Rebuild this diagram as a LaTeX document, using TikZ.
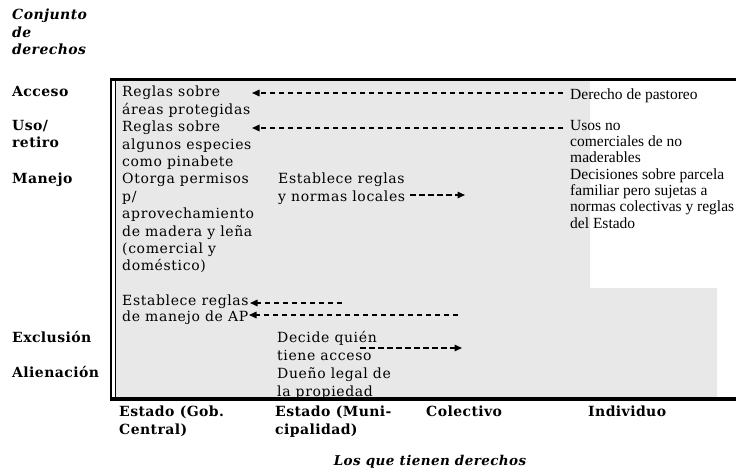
\documentclass[tikz,border=0pt]{standalone}
\usepackage{fontspec}
\setmainfont{DejaVu Serif}
\newfontfamily\boxfont{DejaVu Serif}[LetterSpace=4.5]
\newfontfamily\lblfont{DejaVu Serif}[LetterSpace=3]
\newfontfamily\rtfont{Liberation Serif}
\usetikzlibrary{arrows.meta}
\definecolor{bggray}{RGB}{232,232,232}
\begin{document}
\begin{tikzpicture}[x=1pt,y=-1pt,
  boxtxt/.style={font=\boxfont\fontsize{14}{17.4}\selectfont, align=left, anchor=north west, inner sep=0pt},
  lbl/.style={font=\lblfont\fontsize{14}{17.5}\selectfont\bfseries, align=left, anchor=north west, inner sep=0pt},
  rtxt/.style={font=\rtfont\fontsize{15.5}{16.3}\selectfont, align=left, anchor=north west, inner sep=0pt},
  dasharrow/.style={dash pattern=on 5.5pt off 3.5pt, line width=1.5pt, -{Triangle[length=7.5pt,width=6.5pt]}}]
\useasboundingbox (0,0) rectangle (736,473);
\fill[white] (0,0) rectangle (736,473);
\fill[bggray] (115,80) -- (590,80) -- (590,288) -- (717,288) -- (717,399) -- (115,399) -- cycle;
\draw[line width=3pt] (110,80) -- (736,80);
\draw[line width=3.5pt] (110,399) -- (736,399);
\draw[line width=2.5pt] (111,79) -- (111,401);
\draw[line width=1.5pt] (115.5,80) -- (115.5,398);
% row labels
\node[lbl, font=\lblfont\fontsize{14}{17.5}\selectfont\bfseries\itshape] (conj) at (12,9) {Conjunto\\de\\derechos};
\node[lbl] (acc) at (12,86) {Acceso};
\node[lbl] (uso) at (12,120) {Uso/\\retiro};
\node[lbl] (man) at (12,173) {Manejo};
\node[lbl] (exc) at (12,331) {Exclusión};
\node[lbl] (ali) at (12,366) {Alienación};
% column 1
\node[boxtxt] (c1a) at (122,86) {Reglas sobre\\áreas protegidas\\Reglas sobre\\algunos especies\\como pinabete\\Otorga permisos\\p/\\aprovechamiento\\de madera y leña\\(comercial y\\doméstico)};
\node[boxtxt, font=\boxfont\fontsize{14}{16}\selectfont] (c1b) at (122,295) {Establece reglas\\de manejo de AP};
% column 2
\node[boxtxt] (c2a) at (278,173) {Establece reglas\\y normas locales};
\node[boxtxt, font=\boxfont\fontsize{14}{18}\selectfont] (c2b) at (277,331) {Decide quién\\tiene acceso\\Dueño legal de\\la propiedad};
% right column
\node[rtxt] (r1) at (570,89) {Derecho de pastoreo};
\node[rtxt] (r2) at (570,120) {Usos no\\comerciales de no\\maderables\\Decisiones sobre parcela\\familiar pero sujetas a\\normas colectivas y reglas\\del Estado};
% arrow ends
\coordinate (a1s) at (563,93);  \coordinate (a1e) at (252,93);
\coordinate (a2s) at (563,128); \coordinate (a2e) at (252,128);
\coordinate (a3s) at (410,195); \coordinate (a3e) at (465,195);
\coordinate (a4s) at (342,303); \coordinate (a4e) at (250,303);
\coordinate (a5s) at (458,315); \coordinate (a5e) at (249,315);
\coordinate (a6s) at (360,348); \coordinate (a6e) at (462,348);
\draw[dasharrow] (a1s) -- (a1e);
\draw[dasharrow] (a2s) -- (a2e);
\draw[dasharrow] (a3s) -- (a3e);
\draw[dasharrow] (a4s) -- (a4e);
\draw[dasharrow] (a5s) -- (a5e);
\draw[dasharrow] (a6s) -- (a6e);
% bottom labels
\node[lbl] (h1) at (119,406) {Estado (Gob.\\Central)};
\node[lbl] (h2) at (275,406) {Estado (Muni-\\cipalidad)};
\node[lbl] (h3) at (426,406) {Colectivo};
\node[lbl] (h4) at (588,406) {Individuo};
\node[lbl, font=\lblfont\fontsize{13.5}{15}\selectfont\bfseries\itshape, anchor=center] (foot) at (430,462) {Los que tienen derechos};
\end{tikzpicture}
\end{document}
